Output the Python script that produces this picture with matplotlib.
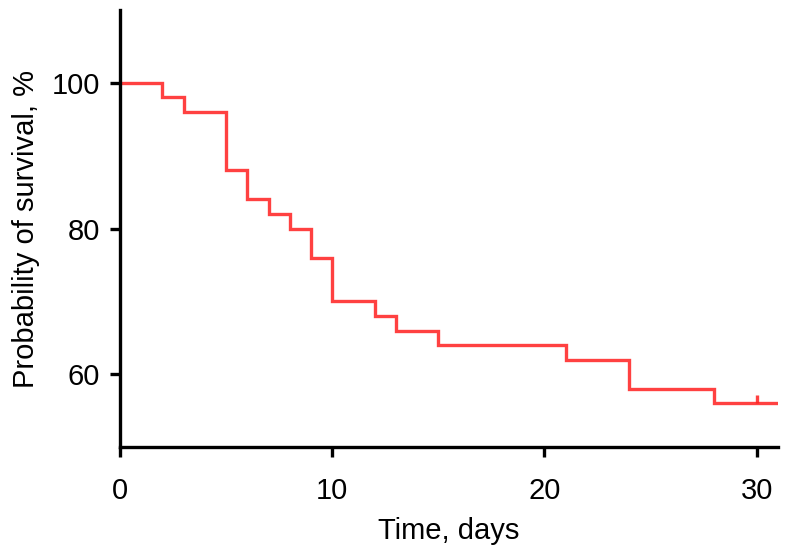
import matplotlib
matplotlib.use("Agg")
import matplotlib.pyplot as plt
from matplotlib.markers import TICKUP

plt.rcParams['font.family'] = ['Liberation Sans', 'DejaVu Sans']

times = [0, 2, 3, 5, 6, 7, 8, 9, 10, 12, 13, 15, 21, 24, 28, 31]
survival = [100, 98, 96, 88, 84, 82, 80, 76, 70, 68, 66, 64, 62, 58, 56, 56]
censor_times = [30]
censor_surv = [56]
xticks = [0, 10, 20, 30]
yticks = [60, 80, 100]

fig = plt.figure(figsize=(7.87, 5.54), dpi=100)
ax = fig.add_axes([0.1525, 0.193, 0.836, 0.789])

ax.step(times, survival, where='post', color='#ff2020', alpha=0.85, lw=2.4, solid_joinstyle='miter')
ax.plot(censor_times, censor_surv, linestyle='none', marker=TICKUP, markersize=6,
        markeredgewidth=2.4, color='#ff2020', alpha=0.85)

ax.set_xlim(0, 31)
ax.set_ylim(50, 110)
ax.set_xticks(xticks)
ax.set_yticks(yticks)
for s in ['top', 'right']:
    ax.spines[s].set_visible(False)
for s in ['left', 'bottom']:
    ax.spines[s].set_linewidth(2.4)
ax.tick_params(axis='both', width=2.4, length=7.5, labelsize=21)
ax.tick_params(axis='x', pad=14)
ax.tick_params(axis='y', pad=7)
ax.set_xlabel('Time, days', fontsize=21, labelpad=9)
ax.set_ylabel('Probability of survival, %', fontsize=21, labelpad=8)

fig.savefig('out.png', dpi=100)
